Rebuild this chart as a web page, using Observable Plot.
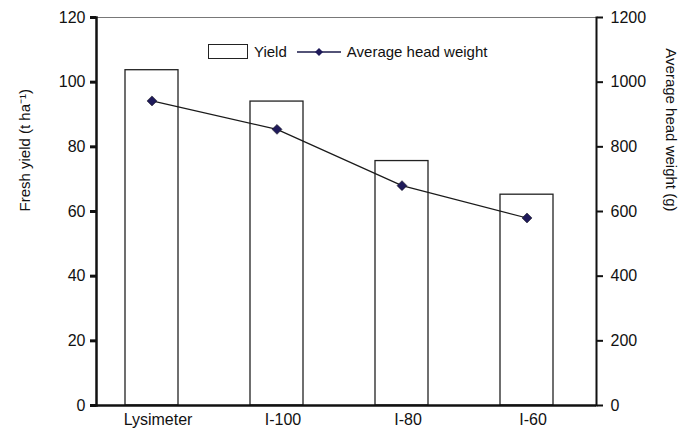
<!DOCTYPE html>
<html><head><meta charset="utf-8">
<script src="https://cdn.jsdelivr.net/npm/d3@7"></script>
<script src="https://cdn.jsdelivr.net/npm/@observablehq/plot@0.6"></script>
<style>
body{margin:0;background:#fff;font-family:Arial,"Liberation Sans",sans-serif}
#wrap{position:relative;width:679px;height:435px}
#legend{position:absolute;left:208px;top:43px;font-size:15px;display:flex;align-items:center;color:#111}
</style></head><body>
<div id="wrap"><div id="legend">
<span style="display:inline-block;width:38px;height:13px;border:1.5px solid #222;margin-right:6px"></span>Yield
<svg width="46" height="14" style="margin-left:10px"><line x1="0" y1="7" x2="44" y2="7" stroke="#1a1a4a" stroke-width="1.3"/><path d="M22 3 L26 7 L22 11 L18 7Z" fill="#1f1a5a"/></svg>
<span style="margin-left:4px">Average head weight</span></div></div>
<script>
const treatments = ["Lysimeter", "I-100", "I-80", "I-60"];
const yieldValues = [103.7, 94, 75.6, 65.2];
const headWeight = [942, 854, 680, 580];

const rows = treatments.map((t, i) => ({t, y: yieldValues[i], w: headWeight[i]}));

const chart = Plot.plot({
  width: 679, height: 435,
  marginLeft: 96, marginRight: 83, marginTop: 17, marginBottom: 30,
  style: {fontSize: "16px", fontFamily: "Arial, 'Liberation Sans', sans-serif", color: "#111"},
  x: {type: "band", domain: treatments, range: [89, 589], paddingInner: 0.576, paddingOuter: 0.288, label: null},
  y: {domain: [0, 120], label: null},
  marks: [
    Plot.barY(rows, {x: "t", y: "y", fill: "white", stroke: "#222", strokeWidth: 1.3}),
    Plot.ruleY([120], {stroke: "#555", strokeWidth: 0.8}),
    Plot.frame({anchor: "left", stroke: "#111", strokeWidth: 2.5}),
    Plot.frame({anchor: "right", stroke: "#111", strokeWidth: 2}),
    Plot.axisY({ticks: d3.range(0, 121, 20), tickSize: 6, tickPadding: 5, strokeWidth: 3, label: null}),
    Plot.axisY({anchor: "right", ticks: d3.range(0, 121, 20), tickSize: 6, tickPadding: 8, strokeWidth: 2,
      tickFormat: d => String(d * 10), label: null}),
    Plot.ruleY([0], {stroke: "#111", strokeWidth: 2.5}),
    Plot.axisX({tickSize: 0, tickPadding: 8, dx: 6, label: null}),
    Plot.lineY(rows, {x: "t", y: d => d.w / 10, stroke: "#1a1a1a", strokeWidth: 1.2}),
    Plot.dot(rows, {x: "t", y: d => d.w / 10, symbol: "diamond2", r: 4.5, fill: "#1f1a5a", stroke: "#111", strokeWidth: 0.5}),
    Plot.text(["Fresh yield (t ha\u207B\u00B9)"], {frameAnchor: "left", dx: -71, rotate: -90, fontSize: 15}),
    Plot.text(["Average head weight (g)"], {frameAnchor: "right", dx: 74, rotate: 90, fontSize: 15})
  ]
});
const wrap = document.getElementById("wrap");
wrap.insertBefore(chart, wrap.firstChild);
</script></body></html>
